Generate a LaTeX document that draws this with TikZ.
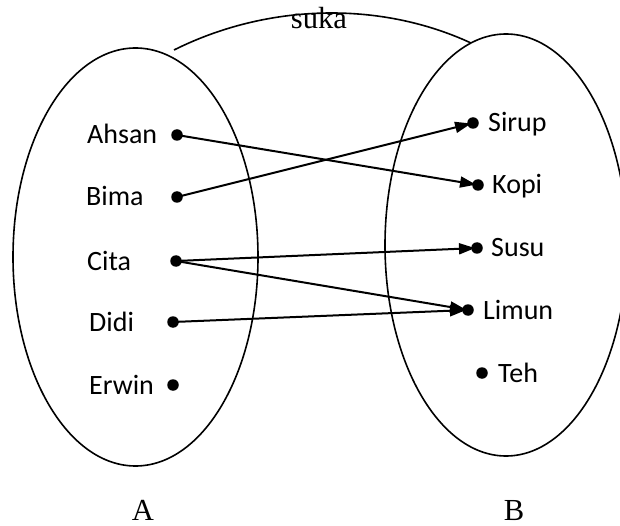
\documentclass[tikz,border=0pt]{standalone}
\usepackage{fontspec}
\setmainfont{Liberation Serif}
\newfontfamily\calfont{Carlito}
\usetikzlibrary{arrows.meta}
\begin{document}
\begin{tikzpicture}[x=1pt,y=-1pt,
  setline/.style={line width=1.6pt},
  dot/.style={circle,fill=black,inner sep=0pt,minimum size=11.5pt},
  item/.style={anchor=base west,inner sep=0pt,font=\calfont\fontsize{28}{33}\selectfont},
  maplink/.style={line width=2pt,-{Triangle[length=16pt,width=11pt]},shorten >=2pt},
  setlabel/.style={inner sep=0pt,anchor=base,text depth=0pt,font=\fontsize{30.6}{36}\selectfont}]
\useasboundingbox (0,0) rectangle (620,526);
\clip (0,0) rectangle (620,526);

% the two sets
\draw[setline] (135.5,257) ellipse [x radius=122.5, y radius=209];
\draw[setline] (506,245) ellipse [x radius=121, y radius=211];

% relation arc with its name
\coordinate (arcL) at (174,50);
\coordinate (arcR) at (471,43);
\draw[setline] (arcL) .. controls (266,4) and (378,0) .. (arcR);
\node[setlabel] (suka) at (319,29) {suka};

% set names
\node[setlabel] (labA) at (143,520) {A};
\node[setlabel] (labB) at (514,520) {B};

% elements of A
\node[dot] (ahsan) at (177,135) {};
\node[dot] (bima)  at (177,197) {};
\node[dot] (cita)  at (176,261) {};
\node[dot] (didi)  at (173,322) {};
\node[dot] (erwin) at (173,385) {};
\node[item] (t-ahsan) at (87,144) {Ahsan};
\node[item] (t-bima)  at (86,206) {Bima};
\node[item] (t-cita)  at (87,270) {Cita};
\node[item] (t-didi)  at (89,331) {Didi};
\node[item] (t-erwin) at (89,394) {Erwin};

% elements of B
\node[dot] (sirup) at (473,123) {};
\node[dot] (kopi)  at (478,185) {};
\node[dot] (susu)  at (477,248) {};
\node[dot] (limun) at (468,310) {};
\node[dot] (teh)   at (482,373) {};
\node[item] (t-sirup) at (488,132) {Sirup};
\node[item] (t-kopi)  at (492,194) {Kopi};
\node[item] (t-susu)  at (491,257) {Susu};
\node[item] (t-limun) at (483,319) {Limun};
\node[item] (t-teh)   at (498,382) {Teh};

% mapping arrows
\draw[maplink] (ahsan.center) -- (kopi.center);
\draw[maplink] (bima.center) -- (sirup.center);
\draw[maplink] (cita.center) -- (susu.center);
\draw[maplink] (cita.center) -- (limun.center);
\draw[maplink] (didi.center) -- (limun.center);
\end{tikzpicture}
\end{document}
